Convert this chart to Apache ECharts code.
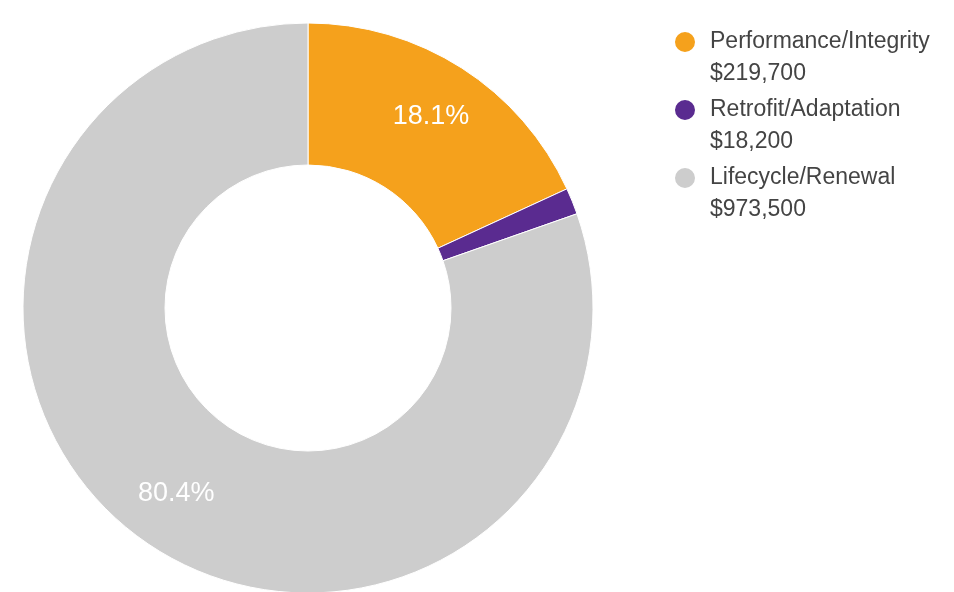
<!DOCTYPE html>
<html>
<head>
<meta charset="utf-8">
<script src="https://cdn.jsdelivr.net/npm/echarts@6/dist/echarts.min.js"></script>
<style>html,body{margin:0;padding:0;background:#fff;}#c{width:954px;height:592px;}</style>
</head>
<body>
<div id="c"></div>
<script>
const categories = ['Performance/Integrity', 'Retrofit/Adaptation', 'Lifecycle/Renewal'];
const values = [219700, 18200, 973500];
const valueLabels = ['$219,700', '$18,200', '$973,500'];
const colors = ['#F5A11C', '#5A2B90', '#CDCDCD'];

const CENTER = [308, 308];
const LABEL_PUSH = 0.05;
const FONT = 'Liberation Sans, Arial, Helvetica, sans-serif';

const chart = echarts.init(document.getElementById('c'), null, {renderer: 'canvas'});
const data = categories.map((n, i) => ({
  name: n, value: values[i], itemStyle: {color: colors[i]},
  label: {show: i !== 1}
}));
const legendLine = {fontFamily: FONT, fontSize: 23, color: '#444444', lineHeight: 32, padding: [0, 0, 0, 8]};
chart.setOption({
  animation: false,
  backgroundColor: '#ffffff',
  legend: {
    orient: 'vertical',
    left: 673, top: -6,
    padding: 0,
    icon: 'circle',
    itemWidth: 24, itemHeight: 22,
    itemGap: -28,
    selectedMode: false,
    data: categories,
    formatter: function (name) {
      const i = categories.indexOf(name);
      return '{s| }\n{n|' + name + '}\n{v|' + valueLabels[i] + '}';
    },
    textStyle: {
      fontFamily: FONT, fontSize: 23, color: '#444444', lineHeight: 32,
      rich: {s: legendLine, n: legendLine, v: legendLine}
    }
  },
  series: [{
    type: 'pie',
    center: CENTER,
    radius: [143, 285],
    startAngle: 90,
    clockwise: true,
    percentPrecision: 1,
    avoidLabelOverlap: false,
    itemStyle: {borderColor: '#ffffff', borderWidth: 1},
    label: {
      position: 'inside',
      formatter: '{d}%',
      color: '#ffffff',
      fontSize: 27,
      fontFamily: FONT
    },
    labelLayout: function (p) {
      const r = p.labelRect;
      const cx = r.x + r.width / 2, cy = r.y + r.height / 2;
      return {dx: (cx - CENTER[0]) * LABEL_PUSH, dy: (cy - CENTER[1]) * LABEL_PUSH};
    },
    labelLine: {show: false},
    emphasis: {disabled: true},
    data: data
  }]
});
</script>
</body>
</html>
